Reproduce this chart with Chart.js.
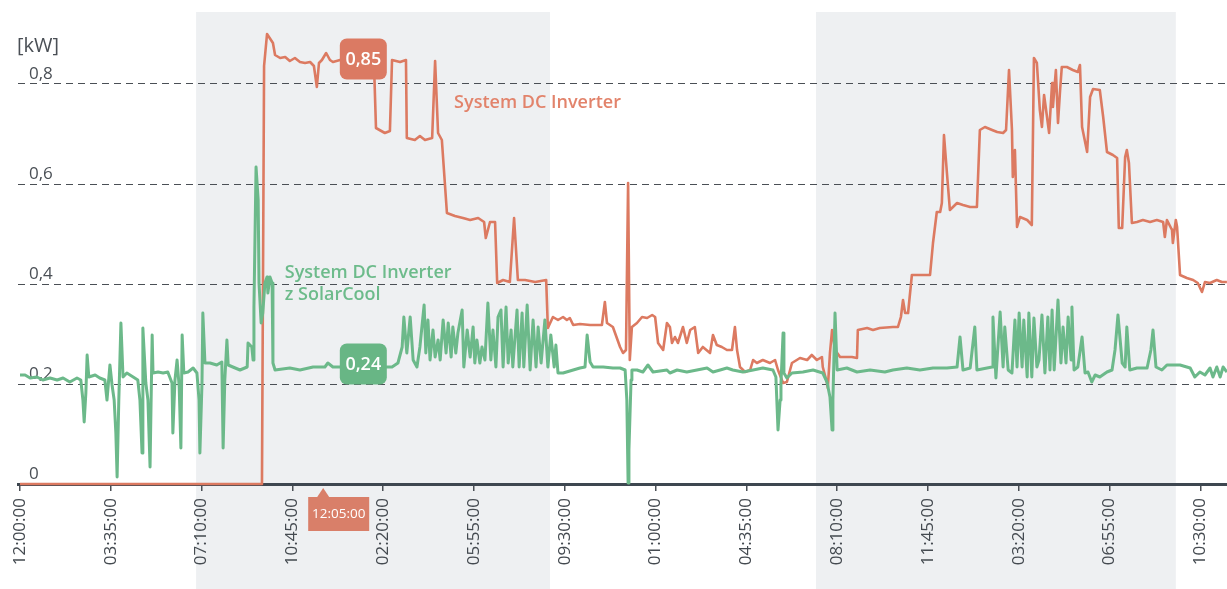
<!DOCTYPE html>
<html><head><meta charset="utf-8">
<script src="https://cdn.jsdelivr.net/npm/chart.js@4.4.1/dist/chart.umd.min.js"></script>
<style>html,body{margin:0;padding:0;background:#fff;}#wrap{width:1227px;height:589px;position:relative;}</style>
</head><body><div id="wrap"><canvas id="c" width="1227" height="589"></canvas></div>
<script>
// ---- data ----
const tickLabels = ['12:00:00','03:35:00','07:10:00','10:45:00','02:20:00','05:55:00','09:30:00','01:00:00','04:35:00','08:10:00','11:45:00','03:20:00','06:55:00','10:30:00'];
const tickStepMin = 215;            // minutes between labelled ticks
const yTicks = [0, 0.2, 0.4, 0.6, 0.8];
const shadedPeriods = [[417, 1255], [1885, 2737]]; // minutes from start
// [minutes from start, kW]
const dcInverter = [[0,0],[573,0],[578,0.836],[585,0.90],[599,0.882],[604,0.858],[616,0.852],[628,0.854],[639,0.846],[651,0.852],[663,0.844],[675,0.842],[687,0.844],[696,0.836],[703,0.794],[708,0.842],[715,0.848],[725,0.862],[734,0.848],[741,0.844],[758,0.848],[781,0.848],[805,0.85],[838,0.848],[843,0.712],[864,0.702],[876,0.706],[881,0.848],[900,0.844],[914,0.848],[916,0.692],[935,0.688],[947,0.696],[959,0.688],[976,0.692],[983,0.846],[990,0.702],[999,0.688],[1011,0.542],[1030,0.536],[1049,0.532],[1066,0.528],[1085,0.532],[1099,0.524],[1103,0.492],[1113,0.524],[1125,0.524],[1130,0.402],[1144,0.408],[1160,0.404],[1170,0.532],[1179,0.408],[1196,0.408],[1220,0.404],[1246,0.408],[1250,0.312],[1262,0.334],[1274,0.328],[1286,0.334],[1295,0.328],[1302,0.332],[1310,0.318],[1326,0.32],[1350,0.318],[1378,0.318],[1385,0.364],[1390,0.322],[1404,0.314],[1421,0.274],[1428,0.262],[1435,0.268],[1440,0.602],[1444,0.248],[1449,0.314],[1461,0.322],[1473,0.334],[1485,0.332],[1497,0.338],[1504,0.334],[1511,0.282],[1523,0.268],[1532,0.322],[1539,0.314],[1544,0.282],[1551,0.294],[1558,0.282],[1570,0.314],[1579,0.282],[1587,0.308],[1598,0.314],[1606,0.262],[1617,0.274],[1634,0.262],[1641,0.298],[1650,0.278],[1662,0.274],[1674,0.268],[1686,0.268],[1693,0.314],[1698,0.268],[1705,0.234],[1717,0.224],[1729,0.228],[1736,0.248],[1745,0.242],[1759,0.248],[1776,0.242],[1788,0.248],[1795,0.228],[1807,0.202],[1816,0.204],[1828,0.242],[1847,0.252],[1864,0.248],[1875,0.258],[1887,0.248],[1899,0.254],[1901,0.234],[1911,0.202],[1913,0.192],[1918,0.262],[1923,0.308],[1930,0.268],[1942,0.254],[1958,0.254],[1970,0.254],[1982,0.252],[1984,0.308],[2006,0.312],[2020,0.308],[2036,0.312],[2067,0.314],[2079,0.314],[2086,0.334],[2091,0.368],[2096,0.342],[2103,0.342],[2112,0.418],[2155,0.418],[2162,0.482],[2171,0.544],[2179,0.544],[2183,0.562],[2188,0.698],[2195,0.622],[2202,0.548],[2219,0.562],[2233,0.558],[2250,0.554],[2266,0.554],[2273,0.708],[2285,0.714],[2302,0.708],[2314,0.704],[2328,0.702],[2335,0.708],[2342,0.828],[2349,0.708],[2351,0.614],[2356,0.668],[2361,0.514],[2368,0.534],[2385,0.528],[2396,0.518],[2401,0.852],[2408,0.842],[2415,0.748],[2420,0.714],[2425,0.778],[2432,0.734],[2437,0.702],[2444,0.802],[2446,0.754],[2453,0.828],[2458,0.722],[2463,0.788],[2467,0.834],[2479,0.834],[2493,0.828],[2505,0.824],[2510,0.838],[2515,0.714],[2527,0.664],[2534,0.774],[2541,0.79],[2557,0.788],[2565,0.734],[2574,0.664],[2588,0.658],[2598,0.652],[2602,0.512],[2610,0.512],[2617,0.654],[2621,0.668],[2626,0.642],[2633,0.522],[2645,0.524],[2659,0.528],[2676,0.524],[2692,0.528],[2707,0.524],[2711,0.494],[2716,0.528],[2728,0.508],[2730,0.482],[2737,0.528],[2740,0.514],[2747,0.418],[2763,0.412],[2778,0.408],[2789,0.402],[2799,0.384],[2806,0.404],[2818,0.402],[2834,0.408],[2846,0.404],[2858,0.404]];
const dcInverterSolarCool = [[0,0.218],[12,0.218],[24,0.212],[40,0.214],[54,0.208],[71,0.212],[88,0.208],[102,0.212],[118,0.204],[135,0.212],[144,0.208],[149,0.168],[152,0.124],[156,0.182],[159,0.258],[163,0.214],[178,0.218],[189,0.212],[201,0.208],[206,0.168],[213,0.238],[218,0.198],[223,0.168],[227,0.102],[230,0.014],[234,0.168],[239,0.322],[244,0.214],[253,0.222],[268,0.214],[279,0.208],[284,0.168],[289,0.062],[291,0.312],[298,0.202],[303,0.168],[308,0.034],[313,0.298],[315,0.222],[327,0.224],[339,0.222],[350,0.224],[360,0.202],[362,0.102],[367,0.208],[372,0.248],[377,0.194],[381,0.072],[384,0.298],[388,0.222],[398,0.224],[410,0.232],[419,0.222],[424,0.168],[426,0.062],[431,0.202],[433,0.342],[438,0.242],[450,0.242],[466,0.238],[478,0.244],[481,0.072],[485,0.208],[490,0.288],[493,0.238],[504,0.234],[521,0.228],[538,0.234],[540,0.282],[549,0.274],[552,0.248],[554,0.354],[559,0.634],[564,0.568],[566,0.402],[571,0.322],[575,0.342],[580,0.402],[585,0.414],[587,0.382],[592,0.414],[597,0.402],[599,0.242],[604,0.228],[639,0.232],[663,0.228],[694,0.234],[722,0.234],[729,0.242],[741,0.234],[805,0.234],[881,0.234],[895,0.242],[905,0.274],[909,0.334],[916,0.262],[924,0.334],[931,0.248],[940,0.234],[947,0.274],[957,0.358],[961,0.262],[966,0.328],[971,0.248],[978,0.308],[983,0.254],[990,0.288],[995,0.248],[1002,0.328],[1009,0.262],[1014,0.322],[1021,0.254],[1025,0.314],[1032,0.262],[1037,0.302],[1047,0.348],[1051,0.234],[1059,0.308],[1066,0.254],[1073,0.314],[1077,0.242],[1082,0.288],[1089,0.242],[1094,0.274],[1101,0.248],[1108,0.362],[1115,0.248],[1120,0.308],[1127,0.234],[1132,0.334],[1139,0.348],[1144,0.234],[1151,0.354],[1156,0.242],[1163,0.308],[1167,0.234],[1177,0.348],[1182,0.234],[1189,0.342],[1193,0.234],[1201,0.358],[1208,0.228],[1215,0.328],[1222,0.234],[1227,0.314],[1234,0.242],[1243,0.328],[1250,0.234],[1257,0.298],[1265,0.234],[1269,0.278],[1274,0.222],[1286,0.222],[1310,0.228],[1326,0.232],[1338,0.234],[1343,0.298],[1350,0.244],[1357,0.234],[1381,0.234],[1404,0.232],[1421,0.232],[1433,0.228],[1437,0.168],[1440,0.002],[1442,0.068],[1447,0.208],[1449,0.228],[1461,0.228],[1475,0.224],[1487,0.238],[1499,0.224],[1532,0.228],[1539,0.222],[1556,0.228],[1579,0.224],[1603,0.228],[1627,0.232],[1641,0.224],[1658,0.228],[1674,0.232],[1688,0.228],[1712,0.224],[1736,0.228],[1759,0.232],[1783,0.228],[1790,0.214],[1795,0.108],[1800,0.168],[1802,0.202],[1807,0.302],[1809,0.222],[1816,0.212],[1828,0.222],[1854,0.224],[1878,0.228],[1901,0.222],[1911,0.204],[1918,0.174],[1923,0.108],[1925,0.168],[1930,0.342],[1935,0.228],[1958,0.232],[1982,0.224],[2013,0.228],[2048,0.224],[2067,0.228],[2100,0.232],[2131,0.228],[2162,0.232],[2195,0.232],[2219,0.234],[2226,0.294],[2233,0.228],[2250,0.232],[2261,0.314],[2266,0.228],[2290,0.232],[2302,0.234],[2304,0.334],[2311,0.212],[2321,0.344],[2328,0.234],[2332,0.314],[2340,0.228],[2349,0.222],[2356,0.328],[2361,0.234],[2366,0.342],[2373,0.234],[2377,0.328],[2385,0.214],[2389,0.342],[2396,0.214],[2401,0.332],[2408,0.234],[2413,0.248],[2420,0.338],[2427,0.222],[2434,0.334],[2439,0.228],[2444,0.348],[2449,0.228],[2458,0.368],[2465,0.242],[2470,0.314],[2477,0.242],[2482,0.334],[2489,0.248],[2491,0.354],[2496,0.228],[2505,0.234],[2515,0.294],[2522,0.222],[2529,0.224],[2538,0.204],[2546,0.218],[2557,0.214],[2574,0.224],[2586,0.228],[2593,0.268],[2600,0.338],[2610,0.242],[2617,0.234],[2621,0.314],[2628,0.228],[2645,0.232],[2669,0.232],[2678,0.268],[2683,0.308],[2690,0.234],[2704,0.228],[2716,0.238],[2747,0.238],[2771,0.232],[2782,0.214],[2794,0.224],[2806,0.218],[2818,0.232],[2825,0.214],[2834,0.234],[2842,0.214],[2849,0.234],[2858,0.224]];
const seriesNames = ['System DC Inverter', ['System DC Inverter', 'z SolarCool']];
const badgeValues = [0.85, 0.24];      // kW shown in badges
const badgeTimeMin = 813;
const cursorTimeMin = 718;
const cursorLabel = '12:05:00';
const xRange = [-4.7, 2858.2];
const yMax = 0.944;

// ---- styling ----
const ORANGE = '#dc7a61', GREEN = '#6cb98a';
const ORANGE_TXT = '#e2836b', GREEN_TXT = '#6dbb8b';
const TXT = '#4a4f55';
const FONT = '"Open Sans", "DejaVu Sans", sans-serif';
const fmt = v => v === 0 ? '0' : String(v).replace('.', ',');

const annot = {
  id: 'annot',
  beforeDraw(chart) {
    const {ctx, chartArea: a, scales: {x}} = chart;
    ctx.save();
    ctx.fillStyle = '#eef0f2';
    for (const [s, e] of shadedPeriods) {
      const x0 = x.getPixelForValue(s), x1 = x.getPixelForValue(e);
      ctx.fillRect(x0, a.top, x1 - x0, chart.height - a.top);
    }
    ctx.restore();
  },
  afterDraw(chart) {
    const {ctx, scales: {x, y}} = chart;
    ctx.save();
    // unit
    ctx.fillStyle = TXT;
    ctx.font = '20px ' + FONT;
    ctx.textAlign = 'left'; ctx.textBaseline = 'alphabetic';
    ctx.fillText('[kW]', 17, 52);
    // series names
    ctx.font = '600 18px ' + FONT;
    ctx.fillStyle = ORANGE_TXT;
    ctx.fillText(seriesNames[0], x.getPixelForValue(1028), y.getPixelForValue(0.752));
    ctx.fillStyle = GREEN_TXT;
    ctx.fillText(seriesNames[1][0], x.getPixelForValue(627), y.getPixelForValue(0.412));
    ctx.fillText(seriesNames[1][1], x.getPixelForValue(627), y.getPixelForValue(0.368));
    // badges
    const bx = x.getPixelForValue(badgeTimeMin);
    [[badgeValues[0], '#db7a63'], [badgeValues[1], '#68b685']].forEach(([v, col]) => {
      const by = y.getPixelForValue(v);
      ctx.fillStyle = col;
      ctx.beginPath();
      ctx.roundRect(bx - 23.5, by - 20.5, 47, 41, 7);
      ctx.fill();
      ctx.fillStyle = '#fff';
      ctx.font = '600 18px ' + FONT;
      ctx.textAlign = 'center'; ctx.textBaseline = 'middle';
      ctx.fillText(fmt(v), bx, by + 1);
    });
    // cursor label
    const cx = x.getPixelForValue(cursorTimeMin);
    const top = y.getPixelForValue(0);
    ctx.fillStyle = '#d97f69';
    ctx.beginPath();
    ctx.moveTo(cx, top + 4); ctx.lineTo(cx - 6, top + 13); ctx.lineTo(cx + 6, top + 13); ctx.closePath(); ctx.fill();
    ctx.fillRect(cx - 15, top + 13, 61, 34);
    ctx.fillStyle = '#fff';
    ctx.font = '13.5px "Open Sans", sans-serif';
    ctx.textAlign = 'center'; ctx.textBaseline = 'middle';
    ctx.fillText(cursorLabel, cx + 15.5, top + 30.5);
    ctx.restore();
  }
};

new Chart(document.getElementById('c'), {
  type: 'line',
  data: {
    datasets: [
      { label: 'System DC Inverter z SolarCool', data: dcInverterSolarCool.map(([m, v]) => ({x: m, y: v})),
        borderColor: GREEN, borderWidth: 3, pointRadius: 0, tension: 0, clip: 4, borderJoinStyle: 'round' },
      { label: 'System DC Inverter', data: dcInverter.map(([m, v]) => ({x: m, y: v})),
        borderColor: ORANGE, borderWidth: 2.6, pointRadius: 0, tension: 0, clip: 4, borderJoinStyle: 'round' }
    ]
  },
  options: {
    responsive: false, animation: false, events: [],
    layout: { padding: { left: 18, top: 12, right: 0, bottom: 0 } },
    plugins: { legend: { display: false }, tooltip: { enabled: false } },
    scales: {
      x: {
        type: 'linear', min: xRange[0], max: xRange[1],
        afterBuildTicks: s => { s.ticks = tickLabels.map((_, i) => ({ value: i * tickStepMin })); },
        afterFit: s => { s.height = 105; s.paddingLeft = 0; s.paddingRight = 0; },
        grid: { drawOnChartArea: false, drawTicks: true, tickLength: 7, color: '#4a4f55', lineWidth: 1.5 },
        border: { display: true, color: '#3e4750', width: 3 },
        ticks: { autoSkip: false, minRotation: 90, maxRotation: 90, padding: 7, color: '#444a50',
                 font: { family: FONT, size: 17 }, callback: (v, i) => tickLabels[i] }
      },
      y: {
        min: 0, max: yMax,
        afterBuildTicks: s => { s.ticks = yTicks.map(v => ({ value: v })); },
        afterFit: s => { s.width = 0; s.paddingTop = 0; s.paddingBottom = 0; },
        grid: { drawTicks: false, lineWidth: 1,
                color: c => (c.tick && c.tick.value === 0) ? 'rgba(0,0,0,0)' : '#4a4f55' },
        border: { display: false, dash: [7, 5] },
        ticks: { mirror: true, padding: 11, labelOffset: -10, color: TXT,
                 font: { family: FONT, size: 17 }, callback: v => fmt(v) }
      }
    }
  },
  plugins: [annot]
});
</script></body></html>
